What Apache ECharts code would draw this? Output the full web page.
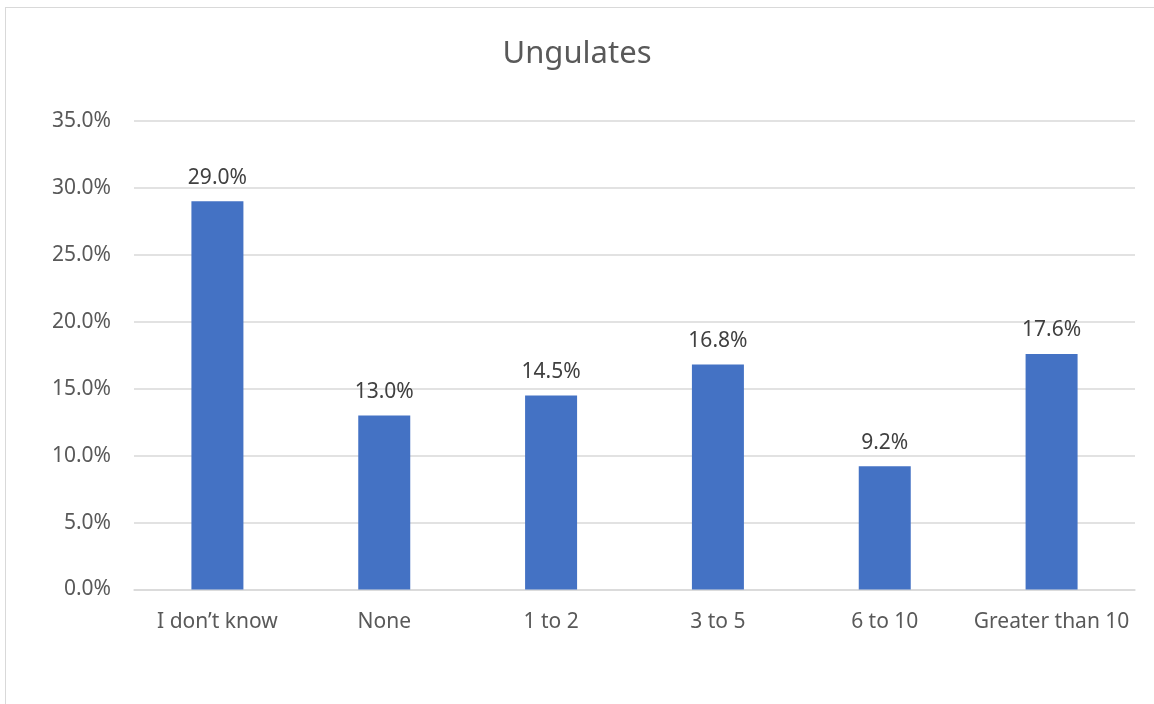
<!DOCTYPE html>
<html>
<head>
<meta charset="utf-8">
<script src="https://cdn.jsdelivr.net/npm/echarts@6/dist/echarts.min.js"></script>
<style>
html,body{margin:0;padding:0;background:#fff;}
#frame{position:absolute;left:5px;top:7px;width:1200px;height:800px;border:1.5px solid #d9d9d9;box-sizing:border-box;}
#chart{position:absolute;left:0;top:0;width:1154px;height:704px;}
</style>
</head>
<body>
<div id="frame"></div>
<div id="chart"></div>
<script>
const categories = ["I don\u2019t know", "None", "1 to 2", "3 to 5", "6 to 10", "Greater than 10"];
const values = [29.0, 13.0, 14.5, 16.8, 9.2, 17.6];
const yTicks = { min: 0, max: 35, interval: 5 };
const titleText = "Ungulates";

const chart = echarts.init(document.getElementById('chart'), null, {renderer: 'canvas'});
const font = "'Noto Sans', sans-serif";
chart.setOption({
  animation: false,
  backgroundColor: 'transparent',
  title: {
    text: titleText, left: 'center', top: 34,
    textStyle: {fontFamily: font, fontSize: 31, fontWeight: 'normal', color: '#595959'}
  },
  grid: {left: 134, right: 19, top: 121, bottom: 114.5, containLabel: false},
  xAxis: {
    type: 'category', data: categories,
    axisLine: {lineStyle: {color: '#d9d9d9', width: 1.5}},
    axisTick: {show: false},
    axisLabel: {fontFamily: font, fontSize: 21, color: '#595959', margin: 22, interval: 0}
  },
  yAxis: {
    type: 'value', min: yTicks.min, max: yTicks.max, interval: yTicks.interval,
    axisLine: {show: false}, axisTick: {show: false},
    splitLine: {lineStyle: {color: '#d9d9d9', width: 1.5}},
    axisLabel: {fontFamily: font, fontSize: 21, color: '#595959', margin: 23,
      formatter: v => v.toFixed(1) + '%'}
  },
  series: [{
    type: 'bar', data: values, barWidth: 52,
    itemStyle: {color: '#4472c4'},
    label: {show: true, position: 'top', distance: 13, fontFamily: font, fontSize: 21, color: '#404040',
      formatter: p => p.value.toFixed(1) + '%'}
  }]
});
</script>
</body>
</html>
